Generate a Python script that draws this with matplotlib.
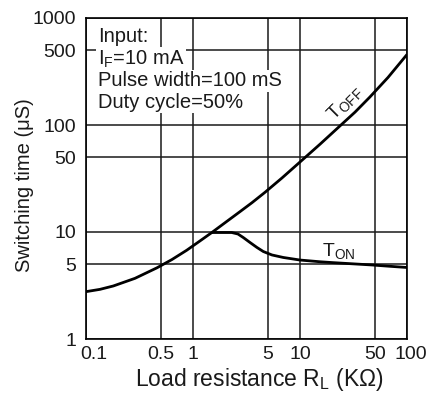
import matplotlib
matplotlib.use("Agg")
import matplotlib.pyplot as plt
from matplotlib.ticker import NullLocator
from matplotlib.transforms import ScaledTranslation

plt.rcParams['font.family'] = ['Liberation Sans', 'DejaVu Sans']
plt.rcParams['mathtext.fontset'] = 'custom'
plt.rcParams['mathtext.rm'] = 'Liberation Sans'

# Data (load resistance in kOhm, time in uS)
toff_x = [0.1, 0.135, 0.18, 0.287, 0.461, 0.636, 0.873, 1.16, 1.50, 1.99, 2.75, 3.56,
          4.71, 6.79, 10, 15.4, 23.6, 32.7, 45.1, 66.4, 100]
toff_y = [2.77, 2.91, 3.13, 3.69, 4.63, 5.53, 6.75, 8.24, 9.89, 12.2, 15.5, 18.8,
          23.5, 32.0, 45.1, 66.2, 97.9, 132, 183, 278, 456]
ton_x = [1.50, 2.30, 2.63, 2.95, 3.41, 3.96, 4.54, 5.47, 6.98, 10, 15.4, 20.5,
         29.3, 46.8, 69.4, 100]
ton_y = [9.89, 9.89, 9.58, 8.88, 7.98, 7.17, 6.57, 6.10, 5.78, 5.47, 5.27, 5.17,
         5.06, 4.92, 4.78, 4.66]

x_ticks = [0.1, 0.5, 1, 5, 10, 50, 100]
x_tick_labels = ['0.1', '0.5', '1', '5', '10', '50', '100']
y_ticks = [1, 5, 10, 50, 100, 500, 1000]
y_tick_labels = ['1', '5', '10', '50', '100', '500', '1000']

note_lines = ['Input:', r'I$_\mathregular{F}$=10 mA', 'Pulse width=100 mS', 'Duty cycle=50%']

fig = plt.figure(figsize=(4.35, 4.03), dpi=100)
ax = fig.add_axes([86 / 435, (403 - 339) / 403, 321 / 435, 321 / 403])

ax.plot(toff_x, toff_y, color='black', lw=2.0, solid_joinstyle='round',
        solid_capstyle='butt', zorder=3)
ax.plot(ton_x, ton_y, color='black', lw=2.0, solid_joinstyle='round',
        solid_capstyle='butt', zorder=3)

ax.set_xscale('log')
ax.set_yscale('log')
ax.set_xlim(0.1, 100)
ax.set_ylim(1, 1000)
ax.set_xticks(x_ticks)
ax.set_xticklabels(x_tick_labels)
ax.set_yticks(y_ticks)
ax.set_yticklabels(y_tick_labels)
ax.xaxis.set_minor_locator(NullLocator())
ax.yaxis.set_minor_locator(NullLocator())
ax.tick_params(axis='both', length=0, labelsize=14, colors='#1a1a1a')
ax.tick_params(axis='x', pad=5)
ax.tick_params(axis='y', pad=7)

# end labels on the x axis sit a bit to the right in the reference
xlabels = ax.get_xticklabels()
xlabels[0].set_transform(xlabels[0].get_transform() + ScaledTranslation(8 / 100, 0, fig.dpi_scale_trans))
xlabels[-1].set_transform(xlabels[-1].get_transform() + ScaledTranslation(4 / 100, 0, fig.dpi_scale_trans))

ax.grid(True, which='major', color='#1a1a1a', lw=1.1)
for sp in ax.spines.values():
    sp.set_linewidth(1.2)
    sp.set_color('black')

ax.set_xlabel(r'Load resistance R$_\mathregular{L}$ (K$\Omega$)', fontsize=16.5, color='#1a1a1a')
ax.xaxis.set_label_coords((259 - 86) / 321, (339 - 366) / 321)
ax.set_ylabel('Switching time (μS)', fontsize=14.5, color='#1a1a1a')
ax.yaxis.set_label_coords((34 - 86) / 321, 0.48)

# input conditions, one white-backed line each
baselines = [42, 64.7, 86.3, 108]
for txt, b in zip(note_lines, baselines):
    ax.text((97.7 - 86) / 321, (339 - b) / 321, txt, transform=ax.transAxes,
            fontsize=14.5, va='baseline', ha='left', zorder=4, color='#1a1a1a',
            bbox=dict(facecolor='white', edgecolor='none', pad=1))

# curve labels
ax.text(26.3, 160, r'T$_\mathregular{OFF}$', fontsize=14, rotation=45, color='#1a1a1a',
        rotation_mode='anchor', ha='center', va='center', zorder=4)
ax.text(23.1, 6.5, r'T$_\mathregular{ON}$', fontsize=14, ha='center', va='center',
        color='#1a1a1a', zorder=4)

plt.savefig('out.png', dpi=100, facecolor='white')
plt.close()
